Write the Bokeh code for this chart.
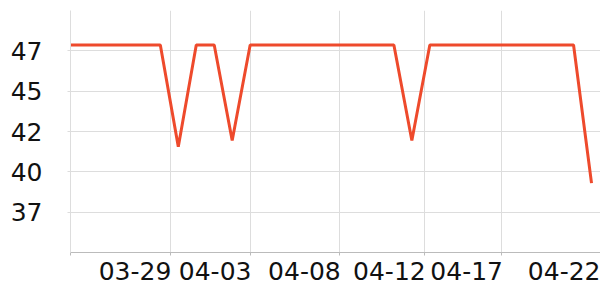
from bokeh.plotting import figure
from bokeh.models import Range1d, FixedTicker, LinearAxis
from bokeh.embed import file_html
from bokeh.resources import INLINE

# data
idx = list(range(30))
values = [47.86, 47.86, 47.86, 47.86, 47.86, 47.86, 41.55, 47.86, 47.86, 41.94,
          47.86, 47.86, 47.86, 47.86, 47.86, 47.86, 47.86, 47.86, 47.86, 41.94,
          47.86, 47.86, 47.86, 47.86, 47.86, 47.86, 47.86, 47.86, 47.86, 39.3]
x_ticks = [0, 5.54, 10, 14.97, 19.7, 24, 29.5]
x_tick_labels = ["", "03-29", "04-03", "04-08", "04-12", "04-17", "04-22"]
y_ticks = [37.5, 40, 42.5, 45, 47.5]
y_tick_labels = ["37", "40", "42", "45", "47"]

FONT = "DejaVu Sans"
FS = "25px"
LABEL_SHIFT = 1.95  # labels end at their tick (right aligned)

p = figure(width=600, height=300, output_backend="svg", toolbar_location=None,
           x_range=Range1d(0, 29.5), y_range=Range1d(35, 50))
p.min_border_left = 70
p.min_border_right = 0
p.min_border_top = 10
p.min_border_bottom = 48
p.outline_line_color = None
p.background_fill_color = "white"
p.border_fill_color = "white"

p.line(idx, values, line_color="#ee4a2c", line_width=3)

xa = p.xaxis[0]
xa.ticker = FixedTicker(ticks=x_ticks)
xa.major_label_overrides = {t: "" for t in x_ticks}
xa.major_label_text_font_size = "0px"
xa.major_label_standoff = 0
xa.minor_tick_line_color = None
xa.axis_line_color = "#bbbbbb"
xa.major_tick_line_color = "#bbbbbb"
xa.major_tick_out = 3
xa.major_tick_in = 0

lab_pos = [t - LABEL_SHIFT for t, l in zip(x_ticks, x_tick_labels) if l]
lab_txt = [l for l in x_tick_labels if l]
xl = LinearAxis(ticker=FixedTicker(ticks=lab_pos),
                major_label_overrides={t: l for t, l in zip(lab_pos, lab_txt)})
xl.axis_line_color = None
xl.major_tick_line_color = None
xl.minor_tick_line_color = None
xl.major_tick_out = 0
xl.major_tick_in = 0
xl.major_label_standoff = 6
xl.major_label_text_font = FONT
xl.major_label_text_font_size = FS
xl.major_label_text_color = "#111111"
p.add_layout(xl, "below")

ya = p.yaxis[0]
ya.ticker = FixedTicker(ticks=y_ticks)
ya.major_label_overrides = {t: l for t, l in zip(y_ticks, y_tick_labels)}
ya.minor_tick_line_color = None
ya.axis_line_color = "#dddddd"
ya.major_tick_line_color = "#dddddd"
ya.major_tick_out = 3
ya.major_tick_in = 0
ya.major_label_standoff = 25
ya.major_label_text_font = FONT
ya.major_label_text_font_size = FS
ya.major_label_text_color = "#111111"

p.xgrid.grid_line_color = "#dddddd"
p.ygrid.grid_line_color = "#dddddd"

open("out.html", "w").write(file_html(p, INLINE))
